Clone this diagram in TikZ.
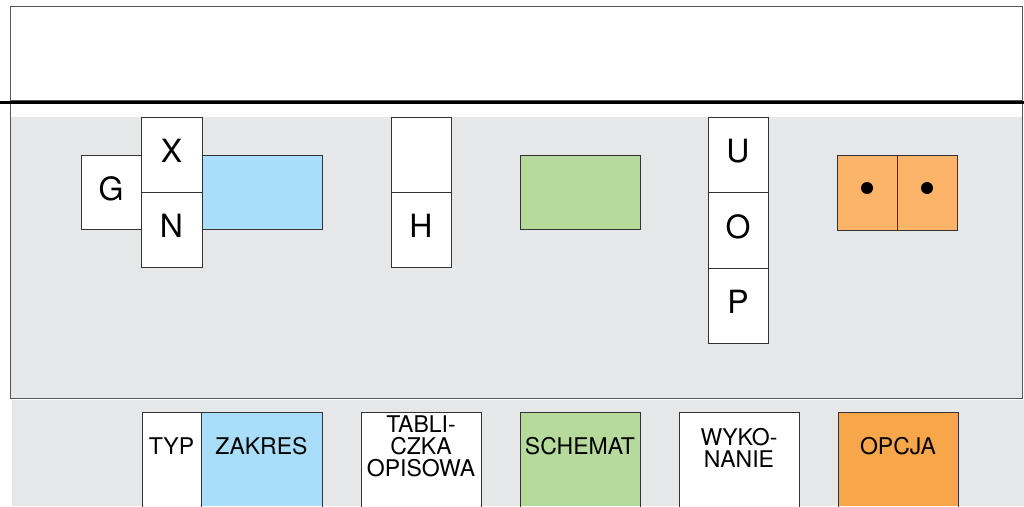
\documentclass[tikz,border=0pt]{standalone}
\usepackage{fontspec}
\setmainfont{TeX Gyre Heros}
\definecolor{panelgray}{HTML}{E6E7E9}
\definecolor{zblue}{HTML}{A8DEF9}
\definecolor{sgreen}{HTML}{B6D99C}
\definecolor{olight}{HTML}{FBB46A}
\definecolor{odark}{HTML}{F8A64A}
\definecolor{framegray}{HTML}{555555}
\definecolor{boxline}{HTML}{333333}
\begin{document}
\begin{tikzpicture}[x=1pt,y=-1pt,
  cell/.style={draw=boxline,line width=0.9pt,fill=white,inner sep=0pt},
  big/.style={font=\fontsize{32}{32}\selectfont,text depth=7pt},
  lab/.style={font=\fontsize{23}{22}\selectfont,align=center,inner sep=0pt},
  openbox/.style={draw=boxline,line width=0.9pt}]
\useasboundingbox (0,0) rectangle (1024,506);
% frames
\fill[panelgray] (10,117) rectangle (1022,398);
\fill[panelgray] (12,400) rectangle (1024,506);
\draw[framegray,line width=1pt] (10,100) -- (10,6) -- (1022,6) -- (1022,100);
\draw[framegray,line width=1pt] (10,100) -- (10,398) -- (1022,398) -- (1022,100);
\draw[framegray,line width=0.8pt] (10,100) -- (1022,100);
\draw[black,line width=2.6pt] (0,102.5) -- (1024,102.5);
% code boxes
\node[cell,minimum width=60pt,minimum height=74pt,big] (g) at (111,192) {G};
\node[cell,minimum width=61pt,minimum height=75pt,big] (x) at (171.5,154.5) {X};
\node[cell,minimum width=61pt,minimum height=75pt,big] (n) at (171.5,229.5) {N};
\node[cell,fill=zblue,minimum width=120pt,minimum height=74pt] (zak) at (262,192) {};
\node[cell,minimum width=60pt,minimum height=75pt] (hempty) at (421,154.5) {};
\node[cell,minimum width=60pt,minimum height=75pt,big] (h) at (421,229.5) {H};
\node[cell,fill=sgreen,minimum width=120pt,minimum height=74pt] (sch) at (580,192) {};
\node[cell,minimum width=60pt,minimum height=75pt,big] (u) at (738,154.5) {U};
\node[cell,minimum width=60pt,minimum height=76pt,big] (o) at (738,230) {O};
\node[cell,minimum width=60pt,minimum height=75pt,big] (p) at (738,305.5) {P};
\node[cell,fill=olight,minimum width=60pt,minimum height=75pt] (o1) at (867,192.5) {};
\node[cell,fill=olight,minimum width=60pt,minimum height=75pt] (o2) at (927,192.5) {};
\fill[black] ([yshift=4.5pt]o1.center) circle (6pt);
\fill[black] ([yshift=4.5pt]o2.center) circle (6pt);
% legend boxes
\fill[white] (142,412) rectangle (201,506);
\fill[zblue] (201,412) rectangle (322,506);
\fill[white] (361,412) rectangle (481,506);
\fill[sgreen] (520,412) rectangle (640,506);
\fill[white] (679,412) rectangle (799,506);
\fill[odark] (838,412) rectangle (958,506);
\draw[openbox] (142,507) |- (201,412) -- (201,507);
\draw[openbox] (201,412) -| (322,507);
\draw[openbox] (361,507) |- (481,412) -- (481,507);
\draw[openbox] (520,507) |- (640,412) -- (640,507);
\draw[openbox] (679,507) |- (799,412) -- (799,507);
\draw[openbox] (838,507) |- (958,412) -- (958,507);
\node[lab] (typ) at (171.5,446) {TYP};
\node[lab] (zakres) at (261.5,446) {ZAKRES};
\node[lab] (tab) at (421,446) {TABLI-\\CZKA\\OPISOWA};
\node[lab] (schemat) at (580,446) {SCHEMAT};
\node[lab] (wyk) at (739,448) {WYKO-\\NANIE};
\node[lab] (opcja) at (898,446) {OPCJA};
\end{tikzpicture}
\end{document}
